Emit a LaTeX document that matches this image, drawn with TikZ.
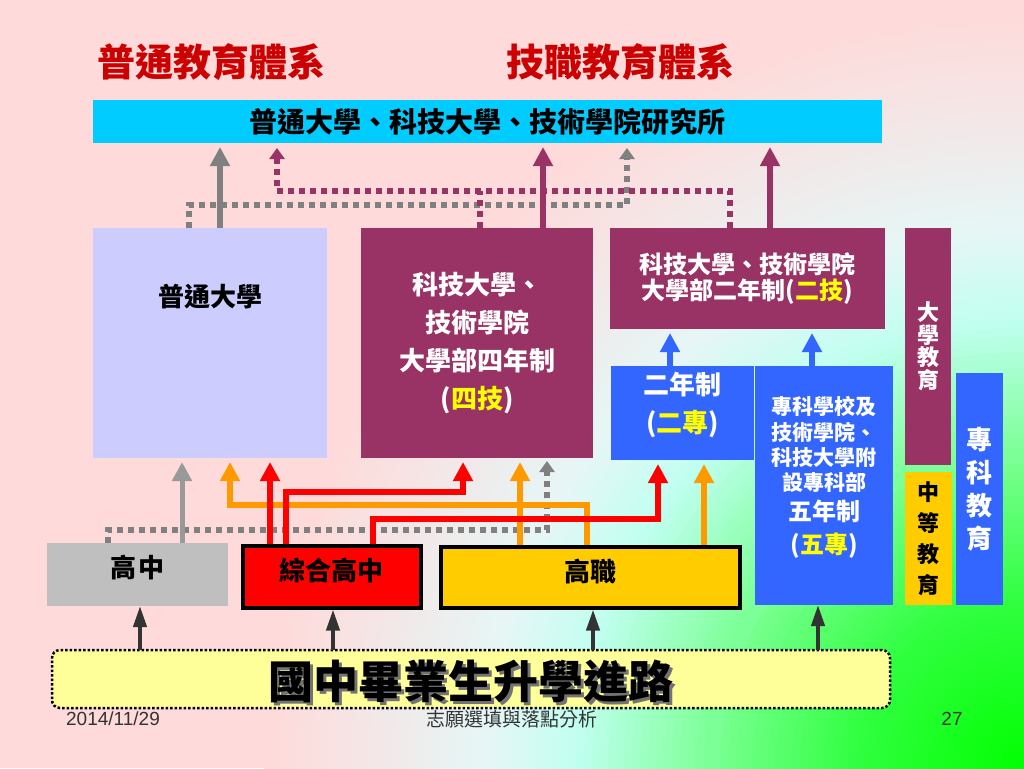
\documentclass[tikz,border=0pt]{standalone}
\usepackage{fontspec}
\setmainfont{Noto Sans CJK TC}
\newfontfamily\latinfont{Liberation Sans}
\usetikzlibrary{arrows.meta}

\definecolor{bgpink}{HTML}{FFDADA}
\definecolor{bgpale}{HTML}{E6F6F6}
\definecolor{bgcyan}{HTML}{C0FFF0}
\definecolor{bgmint}{HTML}{78FF90}
\definecolor{bglime}{HTML}{30FF40}
\definecolor{bggreen}{HTML}{00FF00}
\definecolor{maroon}{HTML}{993366}
\definecolor{lav}{HTML}{CCCCFF}
\definecolor{skyb}{HTML}{00CCFF}
\definecolor{royal}{HTML}{3366FF}
\definecolor{gold}{HTML}{FFCC00}
\definecolor{orng}{HTML}{FF9900}
\definecolor{pale}{HTML}{FFFF99}
\definecolor{boxgray}{HTML}{BFBFBF}
\definecolor{titlered}{HTML}{CC0000}
\definecolor{hiyel}{HTML}{FFFF00}

\newcommand{\liftup}[2]{\raisebox{#1}[\height][\depth]{#2}}

\begin{document}
\begin{tikzpicture}[
    x=1pt, y=-1pt,
    box/.style={anchor=north west, inner sep=0pt, outer sep=0pt, align=center, font=\bfseries\fontsize{26}{38}\selectfont},
    up/.style={line width=6pt, -{Triangle[width=19pt,length=19pt]}, shorten >=4pt},
    dots/.style={line width=6pt, dash pattern=on 6pt off 5pt, -{Triangle[width=15pt,length=11pt]}, shorten >=5pt},
    feed/.style={line width=4pt, draw=black!80, -{Triangle[width=13pt,length=21pt]}}
]
    \useasboundingbox (0,0) rectangle (1024,768);
    % Background
    \fill[bgpink] (0,0) rectangle (1024,768);
    \begin{scope}
        \clip (0,0) rectangle (1024,768);
        \foreach \r in {760,752,...,552} {
            \pgfmathsetmacro\p{(\r-540)/2.2}
            \fill[bgpink!\p!bgpale] (1024,768) circle (\r);
        }
        \foreach \r in {536,528,...,456} {
            \pgfmathsetmacro\p{(\r-450)/0.9}
            \fill[bgpale!\p!bgcyan] (1024,768) circle (\r);
        }
        \foreach \r in {448,440,...,320} {
            \pgfmathsetmacro\p{(\r-310)/1.4}
            \fill[bgcyan!\p!bgmint] (1024,768) circle (\r);
        }
        \foreach \r in {304,296,...,176} {
            \pgfmathsetmacro\p{(\r-170)/1.4}
            \fill[bgmint!\p!bglime] (1024,768) circle (\r);
        }
        \foreach \r in {168,160,...,8} {
            \pgfmathsetmacro\p{\r/1.7}
            \fill[bglime!\p!bggreen] (1024,768) circle (\r);
        }
    \end{scope}

    % Titles
    \node[text=titlered, font=\bfseries\fontsize{38}{38}\selectfont] (ptjy) at (211,62) {普通教育體系};
    \node[text=titlered, font=\bfseries\fontsize{38}{38}\selectfont] (jzjy) at (620,62) {技職教育體系};

    % Universities
    \node[box, fill=skyb, minimum width=789pt, minimum height=43pt, font=\bfseries\fontsize{28}{28}\selectfont] (yjs) at (93,100) {普通大學、科技大學、技術學院研究所};
    \node[box, fill=lav, minimum width=234pt, minimum height=230pt] (ptdx) at (93,228) {\liftup{46pt}{普通大學}};
    \node[box, fill=maroon, text=white, minimum width=232pt, minimum height=230pt] (sj) at (361,228) {科技大學、\\技術學院\\大學部四年制\\(\textcolor{hiyel}{四技})};
    \node[box, fill=maroon, text=white, minimum width=275pt, minimum height=101pt, font=\bfseries\fontsize{24}{25.5}\selectfont] (ej) at (610,228) {科技大學、技術學院\\大學部二年制(\textcolor{hiyel}{二技})};
    \node[box, fill=maroon, text=white, minimum width=46pt, minimum height=237pt, font=\bfseries\fontsize{22}{22.5}\selectfont] (dxjy) at (905,228) {大\\學\\教\\育};

    % Junior colleges
    \node[box, fill=royal, text=white, minimum width=143pt, minimum height=94pt] (ez) at (611,366) {\liftup{7pt}{\begin{tabular}{@{}c@{}}二年制\\(\textcolor{hiyel}{二專})\end{tabular}}};
    \node[box, fill=royal, text=white, minimum width=138pt, minimum height=239pt, font=\bfseries\fontsize{21}{24}\selectfont] (wz) at (755,366) {\liftup{7pt}{\begin{tabular}{@{}c@{}}專科學校及\\技術學院、\\科技大學附\\設專科部\\[2pt]\fontsize{24}{24}\selectfont 五年制\\[5pt]\fontsize{24}{24}\selectfont(\textcolor{hiyel}{五專})\end{tabular}}};
    \node[box, fill=gold, minimum width=47pt, minimum height=133pt, font=\bfseries\fontsize{22}{31}\selectfont] (zdjy) at (905,472) {中\\等\\教\\育};
    \node[box, fill=royal, text=white, minimum width=47pt, minimum height=232pt, font=\bfseries\fontsize{26}{33}\selectfont] (zkjy) at (956,373) {專\\科\\教\\育};

    % High schools
    \node[box, fill=boxgray, minimum width=181pt, minimum height=63pt] (gz) at (47,543) {\liftup{7pt}{高\hspace{3pt}中}};
    \node[box, fill=red, draw=black, line width=3.5pt, outer sep=1.75pt, minimum width=178pt, minimum height=62pt] (zhgz) at (241,544) {\liftup{6pt}{綜合高中}};
    \node[box, fill=gold, draw=black, line width=3.5pt, outer sep=1.75pt, minimum width=299pt, minimum height=61pt] (gzh) at (439,545) {\liftup{6pt}{高職}};

    % Junior high graduates
    \node[box, fill=pale, draw=black, rounded corners=8pt, line width=2.5pt, dash pattern=on 2.5pt off 2pt, minimum width=838pt, minimum height=58pt, font=\bfseries\fontsize{45}{45}\selectfont] (road) at (52,650) {\liftup{-4pt}{\makebox[0pt][l]{\hspace{3pt}\raisebox{-3pt}{\textcolor{black!55}{國中畢業生升學進路}}}國中畢業生升學進路}};

    % Into the graduate schools
    \draw[dots, draw=gray] (ptdx.north -| 189,0) |- (627,205) -- (yjs.south -| 627,0);
    \draw[dots, draw=maroon] (ej.north -| 730,0) |- (277,191) -- (yjs.south -| 277,0);
    \draw[dots, draw=maroon, -, shorten >=0pt] (sj.north -| 480,0) -- (480,191);
    \draw[up, draw=gray] (ptdx.north -| 220,0) -- (yjs.south -| 220,0);
    \draw[up, draw=maroon] (sj.north -| 543,0) -- (yjs.south -| 543,0);
    \draw[up, draw=maroon] (ej.north -| 770,0) -- (yjs.south -| 770,0);

    % Into the two-year programme
    \draw[up, draw=royal] (ez.north -| 670,0) -- (ej.south -| 670,0);
    \draw[up, draw=royal] (wz.north -| 812,0) -- (ej.south -| 812,0);

    % From the high schools
    \draw[dots, draw=gray, shorten >=3pt] (gz.north -| 108,0) |- (547,530) -- (sj.south -| 547,0);
    \draw[up, draw=orng] (gzh.north -| 587,0) |- (230,505) -- (ptdx.south -| 230,0);
    \draw[up, draw=orng] (gzh.north -| 520,0) -- (sj.south -| 520,0);
    \draw[up, draw=orng] (gzh.north -| 704,0) -- (ez.south -| 704,0);
    \draw[up, draw=red] (zhgz.north -| 270,0) -- (ptdx.south -| 270,0);
    \draw[up, draw=red] (zhgz.north -| 286,0) |- (463,492) -- (sj.south -| 463,0);
    \draw[up, draw=red] (zhgz.north -| 373,0) |- (658,519) -- (ez.south -| 658,0);
    \draw[up, draw=black!40, line width=5pt] (gz.north -| 182,0) -- (ptdx.south -| 182,0);

    % From junior high
    \foreach \x/\dest in {140/gz, 333/zhgz, 593/gzh, 818/wz}
        \draw[feed] (road.north -| \x,0) -- (\dest.south -| \x,0);

    % Footer
    \node[font=\latinfont\fontsize{19}{19}\selectfont, text=black!80] (date) at (113,719) {2014/11/29};
    \node[font=\fontsize{19}{19}\selectfont, text=black!80] (topic) at (512,719) {志願選填與落點分析};
    \node[font=\latinfont\fontsize{19}{19}\selectfont, text=black!80] (page) at (952,719) {27};
\end{tikzpicture}
\end{document}
